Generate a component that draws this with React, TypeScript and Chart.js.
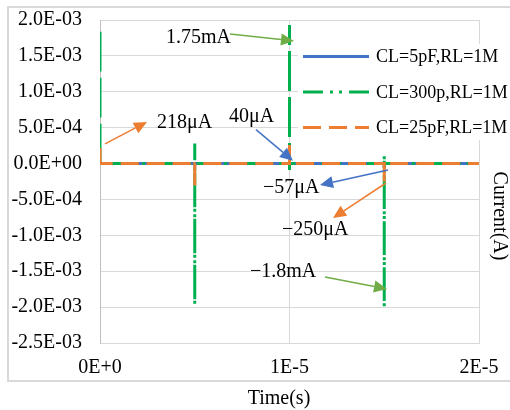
import React, { useEffect, useRef } from "react";
import { Chart, registerables } from "chart.js";

Chart.register(...registerables);

const FONT = '"Liberation Serif", "Times New Roman", serif';

// Axis ticks
const xTickValues = [0, 1e-5, 2e-5];
const xTickLabels = ["0E+0", "1E-5", "2E-5"];
const yTickValues = [-2.5e-3, -2e-3, -1.5e-3, -1e-3, -5e-4, 0, 5e-4, 1e-3, 1.5e-3, 2e-3];
const yTickLabels = [
  "-2.5E-03", "-2.0E-03", "-1.5E-03", "-1.0E-03", "-5.0E-04",
  "0.0E+00", "5.0E-04", "1.0E-03", "1.5E-03", "2.0E-03",
];

// Series names
const seriesNames = ["CL=5pF,RL=1M", "CL=300p,RL=1M", "CL=25pF,RL=1M"];

// CL=5pF, RL=1M : time (s) / current (A)
const cl5Time = [0, 0, 0, 5e-6, 5e-6, 5e-6, 1e-5, 1e-5, 1e-5, 1.5e-5, 1.5e-5, 1.5e-5, 2e-5];
const cl5Current = [0, 4e-5, 0, 0, -5.7e-5, 0, 0, 4e-5, 0, 0, -5.7e-5, 0, 0];

// CL=300p, RL=1M
const cl300Time = [
  0, 0, 0, 5e-6, 5e-6, 5e-6, 5e-6, 1e-5, 1e-5, 1e-5, 1e-5, 1e-5,
  1.5e-5, 1.5e-5, 1.5e-5, 1.5e-5, 1.5e-5, 2e-5,
];
const cl300Current = [
  0, 1.88e-3, 0, 0, 2.8e-4, -1.97e-3, 0, 0, 1.93e-3, 1.75e-3, -9e-5, 0,
  0, 1.2e-4, -2.0e-3, -1.8e-3, 0, 0,
];

// CL=25pF, RL=1M
const cl25Time = [0, 0, 0, 5e-6, 5e-6, 5e-6, 1e-5, 1e-5, 1e-5, 1.5e-5, 1.5e-5, 1.5e-5, 2e-5];
const cl25Current = [0, 2.18e-4, 0, 0, -3.3e-4, 0, 0, 2.6e-4, 0, 0, -2.5e-4, 0, 0];

// Callouts: text, and the point on the curve they refer to
const calloutText = ["1.75mA", "218μA", "40μA", "−57μA", "−250μA", "−1.8mA"];
const calloutTime = [1e-5, 0, 1e-5, 1.5e-5, 1.5e-5, 1.5e-5];
const calloutValue = [1.75e-3, 2.18e-4, 4e-5, -5.7e-5, -2.5e-4, -1.8e-3];

const BLUE = "#4472C4";
const GREEN = "#00B050";
const ORANGE = "#ED7D31";
const OLIVE = "#70AD47";

// Callout drawing offsets (px) relative to the referenced point
const calloutStyle = [
  { color: OLIVE, tail: [-59.5, -4], head: [4.5, 3], text: [-123.5, 0] },
  { color: ORANGE, tail: [5, -4], head: [47, -26], text: [57, -25] },
  { color: BLUE, tail: [-33.5, -31], head: [3.5, 0], text: [-60.5, -44] },
  { color: BLUE, tail: [3.75, 2.3], head: [-64.25, 17.3], text: [-121.25, 20.3] },
  { color: ORANGE, tail: [1.75, 1.5], head: [-51.25, 36.5], text: [-102.25, 48.5] },
  { color: OLIVE, tail: [-59.25, -15.8], head: [2.75, -3.8], text: [-134.25, -20.8] },
];

const toPoints = (t: number[], v: number[]) => t.map((x, i) => ({ x, y: v[i] }));

function drawArrow(
  ctx: CanvasRenderingContext2D,
  x1: number,
  y1: number,
  x2: number,
  y2: number,
  color: string
) {
  const ang = Math.atan2(y2 - y1, x2 - x1);
  const len = 13;
  const half = 6;
  const bx = x2 - len * Math.cos(ang);
  const by = y2 - len * Math.sin(ang);
  ctx.save();
  ctx.strokeStyle = color;
  ctx.lineWidth = 1.5;
  ctx.beginPath();
  ctx.moveTo(x1, y1);
  ctx.lineTo(bx, by);
  ctx.stroke();
  ctx.fillStyle = color;
  ctx.beginPath();
  ctx.moveTo(x2, y2);
  ctx.lineTo(bx + half * Math.sin(ang), by - half * Math.cos(ang));
  ctx.lineTo(bx - half * Math.sin(ang), by + half * Math.cos(ang));
  ctx.closePath();
  ctx.fill();
  ctx.restore();
}

const decorPlugin = {
  id: "decor",
  beforeDraw(chart: any) {
    const ctx = chart.ctx as CanvasRenderingContext2D;
    ctx.save();
    ctx.fillStyle = "#ffffff";
    ctx.fillRect(0, 0, chart.width, chart.height);
    ctx.strokeStyle = "#d9d9d9";
    ctx.lineWidth = 2;
    ctx.strokeRect(8, 7, 540, 374);
    ctx.restore();
  },
  afterDatasetsDraw(chart: any) {
    const ctx = chart.ctx as CanvasRenderingContext2D;
    const xs = chart.scales.x;
    const ys = chart.scales.y;

    // legend
    ctx.save();
    ctx.fillStyle = "#ffffff";
    ctx.fillRect(298, 44, 212, 96);
    chart.data.datasets.forEach((ds: any, i: number) => {
      const y = 56.5 + i * 35.5;
      ctx.strokeStyle = ds.borderColor;
      ctx.lineWidth = 3;
      ctx.setLineDash(ds.borderDash || []);
      ctx.beginPath();
      ctx.moveTo(303, y);
      ctx.lineTo(369, y);
      ctx.stroke();
      ctx.setLineDash([]);
      ctx.fillStyle = "#000";
      ctx.font = `18px ${FONT}`;
      ctx.textAlign = "left";
      ctx.textBaseline = "middle";
      ctx.fillText(ds.label, 376, y + 1);
    });
    ctx.restore();

    // callouts
    ctx.save();
    calloutText.forEach((txt, i) => {
      const px = xs.getPixelForValue(calloutTime[i]);
      const py = ys.getPixelForValue(calloutValue[i]);
      const st = calloutStyle[i];
      drawArrow(ctx, px + st.tail[0], py + st.tail[1], px + st.head[0], py + st.head[1], st.color);
      ctx.fillStyle = "#000";
      ctx.font = `20px ${FONT}`;
      ctx.textAlign = "left";
      ctx.textBaseline = "middle";
      ctx.fillText(txt, px + st.text[0], py + st.text[1]);
    });
    ctx.restore();
  },
  afterDraw(chart: any) {
    const ctx = chart.ctx as CanvasRenderingContext2D;
    ctx.save();
    ctx.fillStyle = "#000";
    ctx.font = `20px ${FONT}`;
    ctx.textAlign = "center";
    ctx.textBaseline = "middle";
    ctx.fillText("Time(s)", 279, 399);
    ctx.translate(499, 216);
    ctx.rotate(Math.PI / 2);
    ctx.fillText("Current(A)", 0, 0);
    ctx.restore();
  },
};

export default function App() {
  const canvasRef = useRef<HTMLCanvasElement | null>(null);

  useEffect(() => {
    const canvas = canvasRef.current;
    if (!canvas) return;
    const chart = new Chart(canvas, {
      type: "line",
      data: {
        datasets: [
          {
            label: seriesNames[0],
            data: toPoints(cl5Time, cl5Current),
            borderColor: BLUE,
            borderWidth: 3,
            borderDash: [],
            pointRadius: 0,
            order: 2,
          },
          {
            label: seriesNames[1],
            data: toPoints(cl300Time, cl300Current),
            borderColor: GREEN,
            borderWidth: 3,
            borderDash: [20, 7, 3, 6, 3, 7],
            pointRadius: 0,
            order: 1,
          },
          {
            label: seriesNames[2],
            data: toPoints(cl25Time, cl25Current),
            borderColor: ORANGE,
            borderWidth: 3,
            borderDash: [18, 8],
            pointRadius: 0,
            order: 0,
          },
        ],
      },
      options: {
        responsive: false,
        animation: false,
        devicePixelRatio: 1,
        layout: {
          autoPadding: false,
          padding: { left: 0, top: 20, right: 31, bottom: 27 },
        },
        elements: { line: { tension: 0 } },
        plugins: {
          legend: { display: false },
          tooltip: { enabled: false },
        },
        scales: {
          x: {
            type: "linear",
            min: 0,
            max: 2e-5,
            afterBuildTicks: (scale: any) => {
              scale.ticks = xTickValues.map((value) => ({ value }));
            },
            afterFit: (scale: any) => {
              scale.height = 40;
            },
            grid: {
              color: "#d9d9d9",
              lineWidth: 1,
              drawTicks: true,
              tickLength: 5,
              tickColor: "rgba(0,0,0,0)",
            },
            border: { color: "#d9d9d9", width: 1 },
            ticks: {
              padding: 8,
              autoSkip: false,
              maxRotation: 0,
              color: "#000",
              font: { family: FONT, size: 20 },
              callback: (_v: any, i: number) => xTickLabels[i],
            },
          },
          y: {
            type: "linear",
            min: -2.5e-3,
            max: 2e-3,
            afterBuildTicks: (scale: any) => {
              scale.ticks = yTickValues.map((value) => ({ value }));
            },
            afterFit: (scale: any) => {
              scale.width = 100;
            },
            grid: {
              color: "#d9d9d9",
              lineWidth: 1,
              drawTicks: true,
              tickLength: 10,
              tickColor: "rgba(0,0,0,0)",
            },
            border: { color: "#bfbfbf", width: 1 },
            ticks: {
              padding: 8,
              autoSkip: false,
              color: "#000",
              font: { family: FONT, size: 20 },
              callback: (_v: any, i: number) => yTickLabels[i],
            },
          },
        },
      } as any,
      plugins: [decorPlugin],
    });
    return () => chart.destroy();
  }, []);

  return (
    <div
      style={{
        position: "fixed",
        left: 0,
        top: 0,
        width: 510,
        height: 410,
        background: "#fff",
      }}
    >
      <canvas ref={canvasRef} width={510} height={410} style={{ display: "block" }} />
    </div>
  );
}
